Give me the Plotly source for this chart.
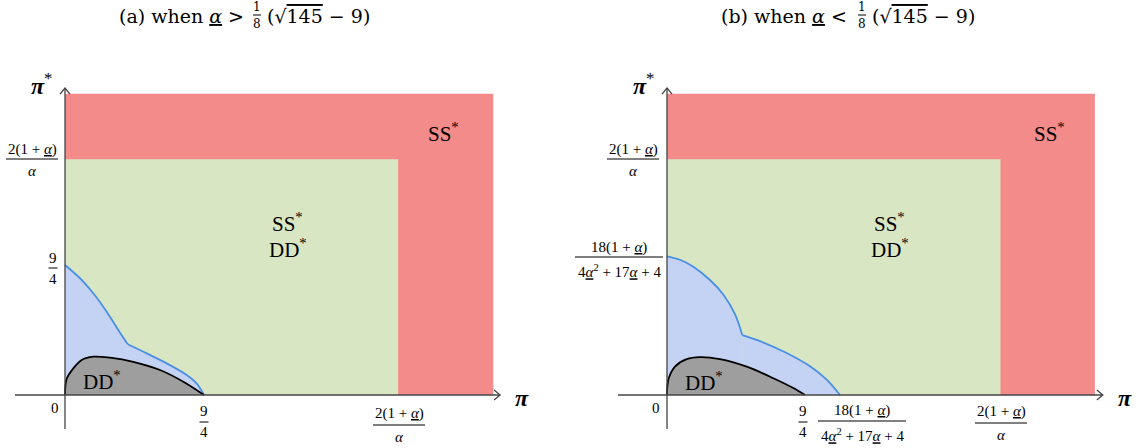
import plotly.graph_objects as go

W, H = 1139, 448
FONT = "Liberation Serif"
TFONT = "DejaVu Serif"

# ---------------- data (schematic units of the diagram) ----------------
NINE_FOURTHS = 2.25

# panel (a)
a_blue_up_x = [0, 0.243, 0.458, 0.675, 0.862, 1.015]
a_blue_up_y = [2.25, 2.02, 1.76, 1.44, 1.125, 0.877]
a_blue_lo_x = [1.015, 1.322, 1.646, 1.969, 2.13, 2.25]
a_blue_lo_y = [0.877, 0.720, 0.547, 0.346, 0.20, 0]
a_black_x = [0, 0.006, 0.027, 0.135, 0.27, 0.458, 0.728, 1.105, 1.537, 1.915, 2.25]
a_black_y = [0, 0.15, 0.28, 0.46, 0.605, 0.663, 0.645, 0.575, 0.433, 0.23, 0]
a_green_xy = [5.39, 4.08]     # 2(1+α)/α on each axis
a_red_xy = [6.93, 5.21]

# panel (b)
b_blue_up_x = [0, 0.212, 0.429, 0.701, 0.918, 1.109, 1.228]
b_blue_up_y = [2.40, 2.34, 2.22, 1.99, 1.74, 1.40, 1.037]
b_blue_lo_x = [1.228, 1.517, 1.952, 2.333, 2.605, 2.822]
b_blue_lo_y = [1.037, 0.932, 0.727, 0.497, 0.265, 0]
b_black_x = [0, 0.006, 0.028, 0.13, 0.32, 0.538, 0.865, 1.30, 1.735, 2.06, 2.25]
b_black_y = [0, 0.15, 0.29, 0.49, 0.62, 0.655, 0.62, 0.49, 0.29, 0.12, 0]
b_green_xy = [5.44, 4.08]
b_red_xy = [6.98, 5.21]

# ---------------- styling ----------------
RED = "rgb(243,139,139)"
GREEN = "rgb(217,230,196)"
BLUE_FILL = "rgb(196,210,243)"
BLUE_LINE = "rgb(74,144,226)"
GRAY = "rgb(158,158,158)"
AXIS = "#444444"

# pixel geometry of the two panels: origin pixel and px per unit
PANELS = {
    "a": dict(ox=65, oy=395, sx=61.8, sy=57.8, dom=[0, 0.5], xa="x", ya="y",
              xext=[-0.81, 7.04], yext=[-0.59, 5.31]),
    "b": dict(ox=667, oy=395, sx=61.3, sy=57.8, dom=[0.5, 1], xa="x2", ya="y2",
              xext=[-0.80, 7.11], yext=[-0.59, 5.31]),
}

fig = go.Figure()
shapes = []
annotations = []


def P(px, py):
    return px / W, 1 - py / H


def text(px, py, s, size=15, xanchor="center", yanchor="middle", family=FONT):
    x, y = P(px, py)
    annotations.append(dict(x=x, y=y, xref="paper", yref="paper", text=s,
                            showarrow=False, xanchor=xanchor, yanchor=yanchor,
                            font=dict(family=family, size=size, color="black")))


def frac(px, pybar, num, den, width, size=15, gnum=10, gden=12, family=FONT):
    text(px, pybar - gnum, num, size, family=family)
    text(px, pybar + gden, den, size, family=family)
    x0, y0 = P(px - width / 2, pybar)
    x1, _ = P(px + width / 2, pybar)
    shapes.append(dict(type="line", xref="paper", yref="paper", x0=x0, x1=x1,
                       y0=y0, y1=y0, line=dict(color="black", width=1)))


def panel(key, blue_up, blue_lo, black, green, red):
    p = PANELS[key]
    xa, ya = p["xa"], p["ya"]
    xr, yr = xa, ya
    # regions
    shapes.append(dict(type="rect", xref=xr, yref=yr, x0=0, x1=red[0], y0=0, y1=red[1],
                       fillcolor=RED, line=dict(width=0), layer="below"))
    shapes.append(dict(type="rect", xref=xr, yref=yr, x0=0, x1=green[0], y0=0, y1=green[1],
                       fillcolor=GREEN, line=dict(width=0), layer="below"))
    for xs, ys in (blue_up, blue_lo):
        fig.add_trace(go.Scatter(x=xs, y=ys, mode="lines", fill="tozeroy",
                                 fillcolor=BLUE_FILL,
                                 line=dict(color=BLUE_LINE, width=1.8, shape="spline", smoothing=0.9),
                                 xaxis=xa, yaxis=ya, hoverinfo="skip", showlegend=False))
    fig.add_trace(go.Scatter(x=black[0], y=black[1], mode="lines", fill="tozeroy",
                             fillcolor=GRAY,
                             line=dict(color="black", width=1.8, shape="spline", smoothing=1.0),
                             xaxis=xa, yaxis=ya, hoverinfo="skip", showlegend=False))
    # axes
    dx, dy = 1 / p["sx"], 1 / p["sy"]
    xe, ye = p["xext"], p["yext"]
    shapes.append(dict(type="line", xref=xr, yref=yr, x0=xe[0], x1=xe[1], y0=0, y1=0,
                       line=dict(color=AXIS, width=1.3), layer="above"))
    shapes.append(dict(type="line", xref=xr, yref=yr, x0=0, x1=0, y0=ye[0], y1=ye[1],
                       line=dict(color=AXIS, width=1.3), layer="above"))
    # open chevron arrowheads
    shapes.append(dict(type="path", xref=xr, yref=yr,
                       path=f"M {xe[1]-6*dx},{5*dy} L {xe[1]},0 L {xe[1]-6*dx},{-5*dy}",
                       line=dict(color=AXIS, width=1.3), layer="above"))
    shapes.append(dict(type="path", xref=xr, yref=yr,
                       path=f"M {-5*dx},{ye[1]-6*dy} L 0,{ye[1]} L {5*dx},{ye[1]-6*dy}",
                       line=dict(color=AXIS, width=1.3), layer="above"))


panel("a", (a_blue_up_x, a_blue_up_y), (a_blue_lo_x, a_blue_lo_y),
      (a_black_x, a_black_y), a_green_xy, a_red_xy)
panel("b", (b_blue_up_x, b_blue_up_y), (b_blue_lo_x, b_blue_lo_y),
      (b_black_x, b_black_y), b_green_xy, b_red_xy)

A = "<u><i>α</i></u>"
AL = "<i>α</i>"
NUM2 = f"2(1 + {A})"
NUM18 = f"18(1 + {A})"
DEN18 = f"4{A}<sup>2</sup> + 17{A} + 4"
PI = "<b><i>π</i></b>"
STAR = "<sup>*</sup>"

# titles
for (right, fx, left, lab, rel) in [(246, 257, 265, "(a)", "&gt;"), (849, 862, 870, "(b)", "&lt;")]:
    text(right, 16, f"{lab} when {A} {rel}", 19, xanchor="right", family=TFONT)
    frac(fx, 15, "1", "8", 8, size=12, gnum=8, gden=9, family=TFONT)
    text(left, 16, "(√<span style='text-decoration:overline'>145</span> − 9)", 19,
         xanchor="left", family=TFONT)

# panel (a) labels
text(42, 84, PI + STAR, 24)
text(522, 398, PI, 24)
frac(32, 159, NUM2, AL, 52)
frac(53, 268, "9", "4", 9, gnum=10, gden=11)
text(55, 408, "0")
frac(204, 422, "9", "4", 9, gnum=11, gden=10)
frac(399, 425, NUM2, AL, 52, gnum=12, gden=12)
text(443, 132, "SS" + STAR, 21)
text(287, 222, "SS" + STAR, 21)
text(288, 248, "DD" + STAR, 21)
text(102, 380, "DD" + STAR, 21)

# panel (b) labels
text(644, 84, PI + STAR, 24)
text(1125, 398, PI, 24)
frac(633, 159, NUM2, AL, 52)
frac(619, 257, NUM18, DEN18, 88, gnum=10, gden=14)
text(656, 408, "0")
frac(803, 422, "9", "4", 9, gnum=11, gden=10)
frac(862, 421, NUM18, DEN18, 88, gnum=11, gden=14)
frac(1001, 423, NUM2, AL, 52, gnum=12, gden=12)
text(1049, 132, "SS" + STAR, 21)
text(889, 222, "SS" + STAR, 21)
text(890, 248, "DD" + STAR, 21)
text(704, 381, "DD" + STAR, 21)

# axes ranges mapped to pixels
layout_axes = {}
for key, p in PANELS.items():
    d0, d1 = p["dom"]
    x_lo = (d0 * W - p["ox"]) / p["sx"]
    x_hi = (d1 * W - p["ox"]) / p["sx"]
    y_lo = (p["oy"] - H) / p["sy"]
    y_hi = p["oy"] / p["sy"]
    xname = "xaxis" if p["xa"] == "x" else "xaxis2"
    yname = "yaxis" if p["ya"] == "y" else "yaxis2"
    layout_axes[xname] = dict(domain=p["dom"], range=[x_lo, x_hi], visible=False,
                              fixedrange=True, anchor=p["ya"])
    layout_axes[yname] = dict(domain=[0, 1], range=[y_lo, y_hi], visible=False,
                              fixedrange=True, anchor=p["xa"])

fig.update_layout(
    width=W, height=H,
    margin=dict(l=0, r=0, t=0, b=0),
    paper_bgcolor="white", plot_bgcolor="white",
    showlegend=False,
    shapes=shapes, annotations=annotations,
    **layout_axes,
)

fig.write_html("out.html", config={"displayModeBar": False},
               post_script="document.body.style.margin='0';document.body.style.overflow='hidden';")
